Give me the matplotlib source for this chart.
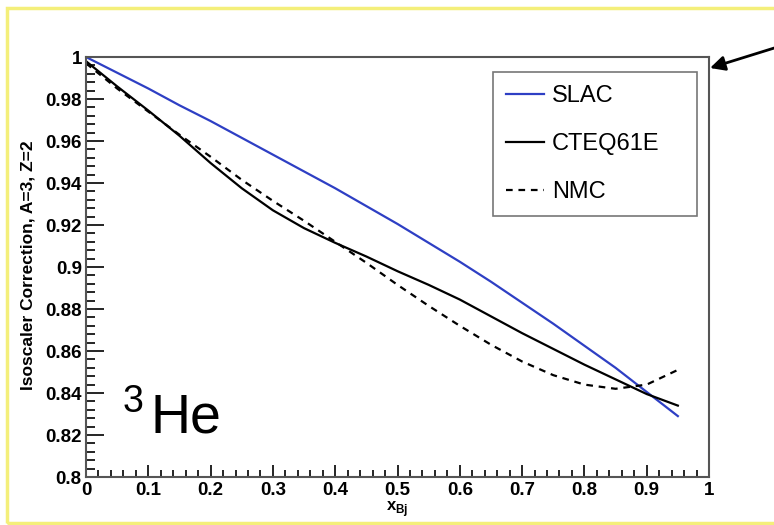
import matplotlib
matplotlib.use("Agg")
import matplotlib.pyplot as plt
from matplotlib.patches import Rectangle
from matplotlib.ticker import MultipleLocator, FuncFormatter

plt.rcParams['font.family'] = ['Liberation Sans', 'DejaVu Sans']
plt.rcParams['mathtext.fontset'] = 'custom'
plt.rcParams['mathtext.rm'] = 'Liberation Sans'
plt.rcParams['mathtext.bf'] = 'Liberation Sans:bold'

# x_Bj grid and the three isoscalar corrections
x_bj = [0.0, 0.05, 0.1, 0.15, 0.2, 0.25, 0.3, 0.35, 0.4, 0.45,
        0.5, 0.55, 0.6, 0.65, 0.7, 0.75, 0.8, 0.85, 0.9, 0.95]
slac = [1.000, 0.9925, 0.985, 0.977, 0.9695, 0.9615, 0.9535, 0.9455, 0.9375, 0.929,
        0.9205, 0.9115, 0.9025, 0.893, 0.883, 0.873, 0.8625, 0.852, 0.8405, 0.829]
cteq = [0.998, 0.986, 0.9745, 0.9625, 0.9495, 0.9375, 0.927, 0.9185, 0.9115, 0.905,
        0.898, 0.8915, 0.8845, 0.8765, 0.8685, 0.861, 0.8535, 0.8465, 0.8395, 0.834]
nmc = [0.997, 0.985, 0.974, 0.963, 0.9525, 0.9415, 0.9315, 0.922, 0.912, 0.902,
       0.8915, 0.8815, 0.872, 0.863, 0.855, 0.8485, 0.844, 0.842, 0.844, 0.851]

fig = plt.figure(figsize=(7.74, 5.25), dpi=100)
ax = fig.add_axes([86 / 774, 1 - 477 / 525, 623 / 774, 420 / 525])

# yellow frame around the whole slide
fig.add_artist(Rectangle((7 / 774, 2 / 525), 1.2, 515 / 525, transform=fig.transFigure,
                         fill=False, edgecolor='#f4ef7a', lw=2.5))

ax.plot(x_bj, slac, color='#2e3fc4', lw=1.6, label='SLAC')
ax.plot(x_bj, cteq, color='black', lw=1.6, label='CTEQ61E')
ax.plot(x_bj, nmc, color='black', lw=1.6, ls=(0, (3, 2.6)), label='NMC')

ax.set_xlim(0, 1)
ax.set_ylim(0.8, 1.0)
ax.xaxis.set_major_locator(MultipleLocator(0.1))
ax.xaxis.set_minor_locator(MultipleLocator(0.02))
ax.yaxis.set_major_locator(MultipleLocator(0.02))
ax.yaxis.set_minor_locator(MultipleLocator(0.004))
fmt = FuncFormatter(lambda v, p: f'{round(v, 3):g}')
ax.xaxis.set_major_formatter(fmt)
ax.yaxis.set_major_formatter(fmt)

ax.tick_params(axis='both', which='both', direction='in', top=False, right=False,
               labelsize=13.5, width=1.2, colors='black')
ax.tick_params(axis='y', which='major', length=13, pad=3)
ax.tick_params(axis='y', which='minor', length=6.5)
ax.tick_params(axis='x', which='major', length=8.6, pad=3.5)
ax.tick_params(axis='x', which='minor', length=5)
for lab in ax.get_xticklabels() + ax.get_yticklabels():
    lab.set_fontweight('bold')
for s in ax.spines.values():
    s.set_color('#555555')
    s.set_linewidth(1.5)

ax.set_xlabel(r'$\mathbf{x}_{\mathbf{Bj}}$', fontsize=12, labelpad=0.5)
fig.text(28 / 774, 1 - 265 / 525, 'Isoscaler Correction, A=3, Z=2', rotation=90,
         ha='center', va='center', fontsize=12.5, fontweight='bold')

ax.text(0.059, 0.155, '3', transform=ax.transAxes, fontsize=27, va='baseline')
ax.text(0.103, 0.107, 'He', transform=ax.transAxes, fontsize=40, va='baseline')

leg = ax.legend(loc='upper left', bbox_to_anchor=(0.653, 0.3, 0.328, 0.664),
                mode='expand', borderaxespad=0, fontsize=17, frameon=True,
                fancybox=False, handlelength=1.6, handletextpad=0.35,
                labelspacing=1.1, borderpad=0.55)
leg.get_frame().set_edgecolor('#555555')
leg.get_frame().set_linewidth(1.2)

# arrow pointing at the frame corner
ax.annotate('', xy=(710, 525 - 68), xycoords='figure pixels',
            xytext=(800, 525 - 40), textcoords='figure pixels',
            arrowprops=dict(arrowstyle='-|>', color='black', lw=2,
                            mutation_scale=22, shrinkA=0, shrinkB=0))

fig.savefig('out.png', dpi=100, facecolor='white')
